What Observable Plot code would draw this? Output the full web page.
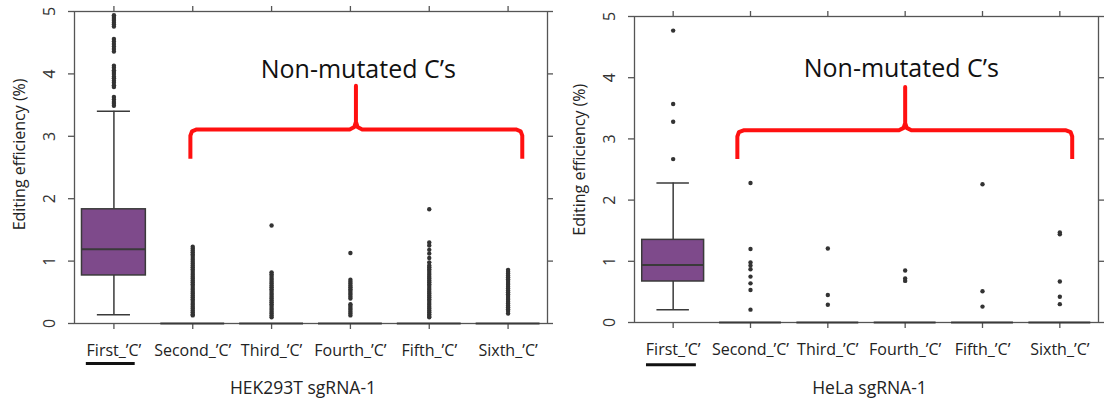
<!DOCTYPE html>
<html>
<head>
<meta charset="utf-8">
<script src="https://cdn.jsdelivr.net/npm/d3@7"></script>
<script src="https://cdn.jsdelivr.net/npm/@observablehq/plot@0.6"></script>
<style>
  html, body { margin: 0; padding: 0; background: #fff; }
  #row { display: flex; flex-direction: row; width: 1106px; height: 404px; }
</style>
</head>
<body>
<div id="row"></div>
<script>
// ---- shared categories / ticks ----
const categories = ["First_’C’", "Second_’C’", "Third_’C’", "Fourth_’C’", "Fifth_’C’", "Sixth_’C’"];
const positions = [1, 2, 3, 4, 5, 6];
const yTicks = [0, 1, 2, 3, 4, 5];
const yLabel = "Editing efficiency (%)";
const noteText = "Non-mutated C’s";

// ---- HEK293T sgRNA-1 ----
const hekTitle = "HEK293T sgRNA-1";
const hekQ1 = [0.77, 0, 0, 0, 0, 0];
const hekMedian = [1.19, 0, 0, 0, 0, 0];
const hekQ3 = [1.83, 0, 0, 0, 0, 0];
const hekLower = [0.14, 0, 0, 0, 0, 0];
const hekUpper = [3.40, 0, 0, 0, 0, 0];
const hekOutliers = [
  [4.94, 4.91, 4.88, 4.85, 4.82, 4.79, 4.76, 4.56, 4.52, 4.48, 4.44, 4.40, 4.36, 4.13, 4.10, 4.06, 4.03, 4.00, 3.96, 3.93, 3.89, 3.86, 3.82, 3.79, 3.63, 3.59, 3.55, 3.52, 3.49],
  [1.23, 1.20, 1.17, 1.14, 1.11, 1.08, 1.05, 1.02, 0.99, 0.96, 0.93, 0.90, 0.87, 0.84, 0.81, 0.78, 0.75, 0.72, 0.69, 0.66, 0.63, 0.60, 0.57, 0.54, 0.51, 0.48, 0.45, 0.42, 0.39, 0.36, 0.33, 0.30, 0.27, 0.24, 0.21, 0.18, 0.15, 0.13],
  [1.57, 0.82, 0.79, 0.76, 0.73, 0.70, 0.67, 0.64, 0.61, 0.58, 0.55, 0.52, 0.49, 0.46, 0.43, 0.40, 0.37, 0.34, 0.31, 0.28, 0.25, 0.22, 0.19, 0.16, 0.13, 0.10],
  [1.13, 0.70, 0.67, 0.64, 0.61, 0.58, 0.55, 0.52, 0.49, 0.46, 0.43, 0.40, 0.31, 0.28, 0.25, 0.22, 0.19, 0.16, 0.13],
  [1.83, 1.30, 1.25, 1.18, 1.12, 1.05, 0.98, 0.93, 0.90, 0.87, 0.84, 0.81, 0.78, 0.75, 0.72, 0.69, 0.66, 0.63, 0.60, 0.57, 0.54, 0.51, 0.48, 0.45, 0.42, 0.39, 0.36, 0.33, 0.30, 0.27, 0.24, 0.21, 0.18, 0.15, 0.12, 0.10],
  [0.86, 0.83, 0.80, 0.77, 0.74, 0.71, 0.68, 0.65, 0.62, 0.59, 0.56, 0.53, 0.50, 0.47, 0.44, 0.41, 0.38, 0.35, 0.32, 0.29, 0.26, 0.23, 0.20, 0.16]
];
const hekBracketX = [1.97, 1.97, 1.99, 2.05, 3.99, 4.05, 4.07, 4.07, 4.07, 4.09, 4.15, 6.10, 6.16, 6.18, 6.18];
const hekBracketY = [2.64, 3.01, 3.08, 3.11, 3.11, 3.15, 3.23, 3.81, 3.23, 3.15, 3.11, 3.11, 3.08, 3.01, 2.64];
const hekNote = [4.10, 4.07];
const hekUnderlineX = [0.65, 1.27];
const hekUnderlineY = [-0.64];
const hekYLabelY = [2.71];

// ---- HeLa sgRNA-1 ----
const helaTitle = "HeLa sgRNA-1";
const helaQ1 = [0.67, 0, 0, 0, 0, 0];
const helaMedian = [0.94, 0, 0, 0, 0, 0];
const helaQ3 = [1.35, 0, 0, 0, 0, 0];
const helaLower = [0.21, 0, 0, 0, 0, 0];
const helaUpper = [2.28, 0, 0, 0, 0, 0];
const helaOutliers = [
  [4.77, 3.57, 3.28, 2.67],
  [2.28, 1.20, 0.98, 0.93, 0.87, 0.75, 0.64, 0.53, 0.21],
  [1.21, 0.45, 0.29],
  [0.85, 0.72, 0.68],
  [2.26, 0.51, 0.26],
  [1.47, 1.44, 0.67, 0.42, 0.30]
];
const helaBracketX = [1.83, 1.83, 1.85, 1.91, 3.92, 3.98, 4.00, 4.00, 4.00, 4.02, 4.08, 6.08, 6.14, 6.16, 6.16];
const helaBracketY = [2.67, 3.04, 3.11, 3.14, 3.14, 3.18, 3.26, 3.85, 3.26, 3.18, 3.14, 3.14, 3.11, 3.04, 2.67];
const helaNote = [3.95, 4.15];
const helaUnderlineX = [0.655, 1.30];
const helaUnderlineY = [-0.69];
const helaYLabelY = [2.66];

function panel(o) {
  const stats = positions.map((p, i) => ({p, q1: o.q1[i], med: o.med[i], q3: o.q3[i], lo: o.lo[i], hi: o.hi[i]}));
  const whisk = stats.filter(d => d.hi > d.q3);
  const pts = o.outliers.flatMap((arr, i) => arr.map(v => ({p: positions[i], v})));
  const bracket = o.bracketX.map((x, i) => ({x, y: o.bracketY[i]}));
  const axisColor = "#555";
  return Plot.plot({
    width: 553,
    height: 404,
    marginLeft: o.marginLeft,
    marginRight: o.marginRight,
    marginTop: o.marginTop,
    marginBottom: o.marginBottom,
    x: {domain: [0.5, 6.5]},
    y: {domain: [0, 5]},
    style: {fontFamily: "'Open Sans', sans-serif", fontSize: "16px", color: "#222", background: "white", overflow: "visible"},
    marks: [
      Plot.frame({stroke: axisColor, strokeWidth: 1.3}),
      Plot.axisY({anchor: "left", ticks: yTicks, tickSize: 6, stroke: axisColor, strokeWidth: 1.3, fill: "none", label: null}),
      Plot.axisY({anchor: "right", ticks: yTicks, tickSize: 5, stroke: axisColor, strokeWidth: 1.3, fill: "none", label: null}),
      Plot.axisX({anchor: "top", ticks: positions, tickSize: 6, stroke: axisColor, strokeWidth: 1.3, fill: "none", label: null}),
      Plot.axisX({anchor: "bottom", ticks: positions, tickSize: 6, tickPadding: 15, stroke: axisColor, strokeWidth: 1.3,
        fill: "#222", tickFormat: d => categories[d - 1], fontSize: 16, label: null}),
      Plot.text(yTicks, {y: d => d, text: d => String(d), frameAnchor: "left", dx: -25, rotate: -90, textAnchor: "middle", lineAnchor: "middle", fontSize: 16, fill: "#333"}),
      Plot.text([yLabel], {y: () => o.yLabelY[0], text: d => d, frameAnchor: "left", dx: -55, rotate: -90, textAnchor: "middle", lineAnchor: "middle", fontSize: 16, fill: "#222"}),
      Plot.text([o.title], {text: d => d, frameAnchor: "bottom", dy: o.titleDy, dx: o.titleDx, textAnchor: "middle", lineAnchor: "middle", fontSize: 17.5, fill: "#222"}),
      Plot.ruleY(o.underlineY, {y: d => d, x1: () => o.underlineX[0], x2: () => o.underlineX[1], stroke: "#111", strokeWidth: 3}),
      // whiskers
      Plot.ruleX(whisk, {x: "p", y1: "lo", y2: "q1", stroke: "#3a3a3a", strokeWidth: 1.5}),
      Plot.ruleX(whisk, {x: "p", y1: "q3", y2: "hi", stroke: "#3a3a3a", strokeWidth: 1.5}),
      Plot.ruleY(whisk, {y: "lo", x1: d => d.p - o.capHalf, x2: d => d.p + o.capHalf, stroke: "#3a3a3a", strokeWidth: 1.5}),
      Plot.ruleY(whisk, {y: "hi", x1: d => d.p - o.capHalf, x2: d => d.p + o.capHalf, stroke: "#3a3a3a", strokeWidth: 1.5}),
      // boxes
      Plot.rect(stats.filter(d => d.q3 > d.q1), {x1: d => d.p - o.boxHalf, x2: d => d.p + o.boxHalf, y1: "q1", y2: "q3", fill: "#7e4a8b", stroke: "#3a3a3a", strokeWidth: 1.5}),
      Plot.ruleY(stats, {y: "med", x1: d => d.p - o.boxHalf, x2: d => d.p + o.boxHalf, stroke: "#3a3a3a", strokeWidth: 2}),
      // outliers
      Plot.dot(pts, {x: "p", y: "v", r: 2.2, fill: "#333", stroke: null}),
      // annotation
      Plot.line(bracket, {x: "x", y: "y", stroke: "#ff1010", strokeWidth: 4, strokeLinejoin: "round", strokeLinecap: "butt"}),
      Plot.text([noteText], {x: () => o.note[0], y: () => o.note[1], text: d => d, fontSize: 25, fill: "#111"})
    ]
  });
}

const row = document.getElementById("row");
row.appendChild(panel({
  marginLeft: 74, marginRight: 6, marginTop: 11, marginBottom: 81,
  q1: hekQ1, med: hekMedian, q3: hekQ3, lo: hekLower, hi: hekUpper, outliers: hekOutliers,
  title: hekTitle, titleDx: -8, titleDy: 65, yLabelY: hekYLabelY,
  bracketX: hekBracketX, bracketY: hekBracketY, note: hekNote,
  underlineX: hekUnderlineX, underlineY: hekUnderlineY, boxHalf: 0.405, capHalf: 0.21
}));
row.appendChild(panel({
  marginLeft: 81, marginRight: 8, marginTop: 16, marginBottom: 82,
  q1: helaQ1, med: helaMedian, q3: helaQ3, lo: helaLower, hi: helaUpper, outliers: helaOutliers,
  title: helaTitle, titleDx: 3, titleDy: 66, yLabelY: helaYLabelY,
  bracketX: helaBracketX, bracketY: helaBracketY, note: helaNote,
  underlineX: helaUnderlineX, underlineY: helaUnderlineY, boxHalf: 0.40, capHalf: 0.21
}));
</script>
</body>
</html>
